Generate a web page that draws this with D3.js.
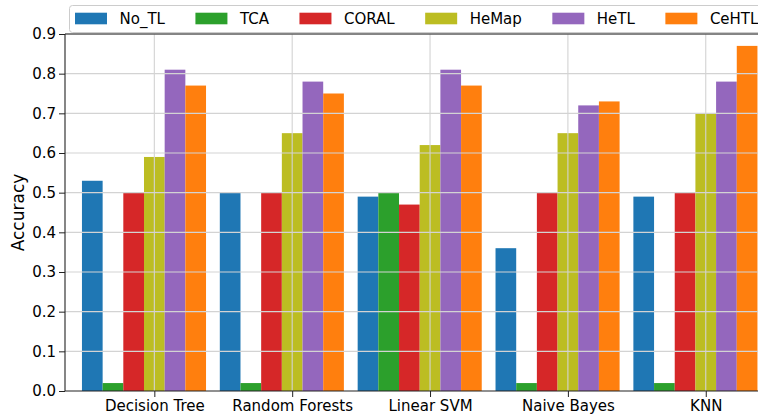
<!DOCTYPE html>
<html>
<head>
<meta charset="utf-8">
<script src="https://cdn.jsdelivr.net/npm/d3@7"></script>
<style>
  html, body { margin: 0; padding: 0; background: #fff; }
  svg { display: block; font-family: "DejaVu Sans", sans-serif; }
</style>
</head>
<body>
<svg id="chart" width="758" height="415"></svg>
<script>
// ---- data ----
const categories = ["Decision Tree", "Random Forests", "Linear SVM", "Naive Bayes", "KNN"];
const seriesNames = ["No_TL", "TCA", "CORAL", "HeMap", "HeTL", "CeHTL"];
const seriesColors = ["#1f77b4", "#2ca02c", "#d62728", "#bcbd22", "#9467bd", "#ff7f0e"];
const noTL  = [0.53, 0.50, 0.49, 0.36, 0.49];
const tca   = [0.02, 0.02, 0.50, 0.02, 0.02];
const coral = [0.50, 0.50, 0.47, 0.50, 0.50];
const hemap = [0.59, 0.65, 0.62, 0.65, 0.70];
const hetl  = [0.81, 0.78, 0.81, 0.72, 0.78];
const cehtl = [0.77, 0.75, 0.77, 0.73, 0.87];
const yTicks = [0.0, 0.1, 0.2, 0.3, 0.4, 0.5, 0.6, 0.7, 0.8, 0.9];
const barWidth = 0.15;

const seriesValues = [noTL, tca, coral, hemap, hetl, cehtl];

(function () {
// ---- layout ----
const svg = d3.select("#chart");
const pLeft = 65, pRight = 758, pTop = 34, pBottom = 391;
const fontSize = 15;

const x = d3.scaleLinear().domain([-0.648, 4.379]).range([pLeft, pRight]);
const y = d3.scaleLinear().domain([0, 0.9]).range([pBottom, pTop]);

// bars
const barsG = svg.append("g");
seriesValues.forEach((vals, j) => {
  barsG.selectAll(null)
    .data(vals.map((v, i) => ({ i, v })))
    .enter().append("rect")
    .attr("x", d => x(d.i + (j - 3) * barWidth - barWidth / 2))
    .attr("width", d => x(d.i + (j - 3) * barWidth + barWidth / 2) - x(d.i + (j - 3) * barWidth - barWidth / 2))
    .attr("y", d => y(d.v))
    .attr("height", d => y(0) - y(d.v))
    .attr("fill", seriesColors[j]);
});

// grid (drawn over bars)
const gridG = svg.append("g");
gridG.selectAll(null).data(yTicks.slice(1)).enter().append("line")
  .attr("x1", pLeft).attr("x2", pRight)
  .attr("y1", d => y(d)).attr("y2", d => y(d))
  .attr("stroke", "#d3d3d3").attr("stroke-width", 1.1);
gridG.selectAll(null).data(d3.range(categories.length)).enter().append("line")
  .attr("x1", d => x(d)).attr("x2", d => x(d))
  .attr("y1", pTop).attr("y2", pBottom)
  .attr("stroke", "#d3d3d3").attr("stroke-width", 1.1);

// axes
const yAxis = d3.axisLeft(y).tickValues(yTicks).tickFormat(d3.format(".1f")).tickSizeOuter(0).tickSize(6).tickPadding(3);
const yG = svg.append("g").attr("transform", `translate(${pLeft},0)`).call(yAxis);
yG.select(".domain").remove();
yG.selectAll("text").attr("font-size", fontSize).attr("font-family", "DejaVu Sans").attr("fill", "#000");
yG.selectAll("line").attr("stroke", "#222");

const xAxis = d3.axisBottom(x).tickValues(d3.range(categories.length)).tickFormat(i => categories[i]).tickSizeOuter(0).tickSize(6).tickPadding(3);
const xG = svg.append("g").attr("transform", `translate(0,${pBottom})`).call(xAxis);
xG.select(".domain").remove();
xG.selectAll("text").attr("font-size", fontSize).attr("font-family", "DejaVu Sans").attr("fill", "#000");
xG.selectAll("line").attr("stroke", "#222");

// spines
svg.append("line").attr("x1", pLeft).attr("x2", pLeft).attr("y1", pTop).attr("y2", pBottom).attr("stroke", "#222").attr("stroke-width", 1.1);
svg.append("line").attr("x1", pLeft).attr("x2", pRight).attr("y1", pBottom).attr("y2", pBottom).attr("stroke", "#222").attr("stroke-width", 1.1);
svg.append("line").attr("x1", pLeft).attr("x2", pRight).attr("y1", pTop).attr("y2", pTop).attr("stroke", "#222").attr("stroke-width", 1.1);

// y label
svg.append("text")
  .attr("transform", `translate(24,${(pTop + pBottom) / 2}) rotate(-90)`)
  .attr("text-anchor", "middle")
  .attr("font-size", 17)
  .attr("fill", "#000")
  .text("Accuracy");

// legend
const legG = svg.append("g");
legG.append("rect")
  .attr("x", 69.5).attr("y", 5.5).attr("width", 720).attr("height", 27)
  .attr("rx", 3).attr("fill", "#fff").attr("fill-opacity", 0.85)
  .attr("stroke", "#cccccc").attr("stroke-width", 1);
let lx = 75;
seriesNames.forEach((name, j) => {
  legG.append("rect").attr("x", lx).attr("y", 12.7).attr("width", 32).attr("height", 11.6).attr("fill", seriesColors[j]);
  const t = legG.append("text").attr("x", lx + 44.5).attr("y", 24)
    .attr("font-size", fontSize).attr("fill", "#000").text(name);
  const w = t.node().getComputedTextLength();
  lx = lx + 44.5 + w + 30.5;
});
})();
</script>
</body>
</html>
